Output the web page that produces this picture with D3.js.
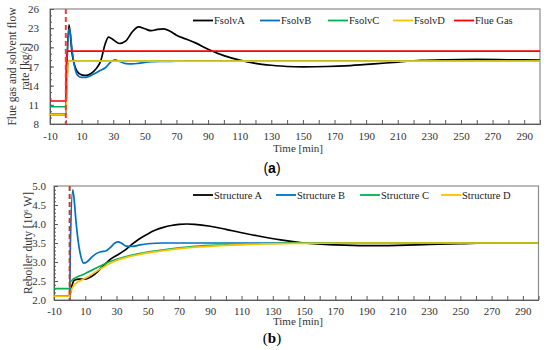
<!DOCTYPE html>
<html>
<head>
<meta charset="utf-8">
<script src="https://cdn.jsdelivr.net/npm/d3@7"></script>
<style>
    body { margin: 0; background: #fff; }
    svg { display: block; }
</style>
</head>
<body>
<div id="chart"></div>
<script>
// ---- (a) flow rates ----
const namesA = ['FsolvA', 'FsolvB', 'FsolvC', 'FsolvD', 'Flue Gas'];
const timeFA = [-10, 0, 0.5, 2, 4, 7, 10, 13, 16, 19, 22, 25, 27, 30, 34, 38, 42, 46, 50, 54, 58, 62, 66, 70, 76, 82, 90, 100, 110, 120, 130, 140, 150, 165, 180, 195, 210, 225, 240, 260, 280, 300];
const fsolvA = [9.5, 9.5, 15, 23.5, 19, 16.3, 15.7, 15.6, 15.9, 16.6, 17.8, 20.6, 21.6, 21.2, 20.6, 21.0, 22.4, 23.2, 22.9, 22.6, 22.8, 22.9, 22.5, 21.9, 21.3, 20.7, 19.7, 18.7, 18.0, 17.5, 17.2, 17.0, 16.95, 17.0, 17.15, 17.4, 17.7, 17.95, 18.05, 18.1, 18.05, 18.0];
const timeFB = [-10, 0, 0.5, 2.3, 4, 6, 8, 10, 13, 16, 19, 22, 25, 28, 31, 34, 38, 42, 46, 50, 55, 60, 70, 80, 100, 150, 200, 250, 300];
const fsolvB = [9.5, 9.5, 16, 23.0, 19.5, 16.5, 15.5, 15.3, 15.3, 15.6, 16.0, 16.4, 16.8, 17.6, 18.05, 17.8, 17.45, 17.4, 17.5, 17.65, 17.75, 17.8, 17.82, 17.85, 17.85, 17.85, 17.85, 17.85, 17.85];
const timeFC = [-10, 0, 1.5, 300];
const fsolvC = [10.7, 10.7, 17.85, 17.85];
const timeFD = [-10, 0, 1.5, 300];
const fsolvD = [9.5, 9.5, 17.85, 17.85];
const timeGas = [-10, 0, 0.5, 300];
const flueGas = [11.6, 11.6, 19.4, 19.4];

// ---- (b) reboiler duty ----
const namesB = ['Structure A', 'Structure B', 'Structure C', 'Structure D'];
const timeSA = [-10, 0, 1, 3, 6, 10, 14, 18, 22, 26, 30, 35, 40, 45, 50, 55, 60, 65, 70, 75, 80, 90, 100, 110, 120, 135, 150, 170, 190, 210, 230, 250, 270, 300];
const structA = [2.1, 2.1, 2.3, 2.52, 2.55, 2.55, 2.62, 2.75, 2.92, 3.07, 3.17, 3.3, 3.47, 3.62, 3.74, 3.84, 3.91, 3.96, 3.99, 4.0, 3.99, 3.94, 3.86, 3.77, 3.69, 3.58, 3.5, 3.45, 3.43, 3.44, 3.46, 3.48, 3.5, 3.5];
const timeSB = [-10, 0, 0.5, 2, 3, 4, 5, 6, 7.5, 9, 11, 14, 17, 20, 23, 26, 29, 31, 33, 36, 40, 45, 50, 60, 80, 100, 300];
const structB = [2.1, 2.1, 3.5, 4.9, 4.6, 4.1, 3.7, 3.4, 3.1, 2.97, 3.0, 3.12, 3.22, 3.27, 3.29, 3.38, 3.5, 3.53, 3.5, 3.42, 3.41, 3.45, 3.48, 3.5, 3.5, 3.5, 3.5];
const timeSC = [-10, 0, 0.3, 1.5, 3, 5, 8, 12, 16, 20, 25, 30, 40, 50, 60, 70, 80, 100, 120, 150, 180, 300];
const structC = [2.3, 2.3, 2.45, 2.52, 2.57, 2.61, 2.66, 2.74, 2.82, 2.9, 3.0, 3.07, 3.18, 3.26, 3.32, 3.37, 3.41, 3.45, 3.48, 3.5, 3.5, 3.5];
const timeSD = [-10, 0, 0.5, 1.5, 3, 5, 8, 12, 16, 20, 25, 30, 40, 50, 60, 70, 80, 100, 120, 150, 180, 300];
const structD = [2.1, 2.1, 2.2, 2.3, 2.4, 2.47, 2.53, 2.62, 2.72, 2.83, 2.95, 3.04, 3.16, 3.24, 3.3, 3.35, 3.39, 3.44, 3.47, 3.49, 3.5, 3.5];

const xTickLabels = d3.range(-10, 300, 20);
const colors = ['#000000', '#0070c0', '#00b050', '#ffc000', '#ff0000'];
const serif = "'Liberation Serif', 'DejaVu Serif', serif";

const svg = d3.select('#chart').append('svg')
    .attr('width', 550)
    .attr('height', 350)
    .attr('font-family', serif);

function zip(t, v) {
    return t.map((d, i) => [d, v[i]]);
}

function drawPanel(opt) {
    const x = d3.scaleLinear().domain([-10, 300]).range([opt.left, opt.right]);
    const y = d3.scaleLinear().domain(opt.yDomain).range([opt.bottom, opt.top]);
    const g = svg.append('g');

    // plot frame
    g.append('rect')
        .attr('x', opt.left).attr('y', opt.top)
        .attr('width', opt.right - opt.left).attr('height', opt.bottom - opt.top)
        .attr('fill', 'none').attr('stroke', '#8c8c8c').attr('stroke-width', 1.2);

    // y axis, ticks inside
    g.append('g')
        .attr('transform', `translate(${opt.left},0)`)
        .call(d3.axisLeft(y).tickValues(opt.yTicks).tickSize(-4).tickSizeOuter(0)
            .tickPadding(opt.yPad).tickFormat(opt.yFormat));
    g.append('g')
        .attr('transform', `translate(${opt.left},0)`)
        .call(d3.axisLeft(y).tickValues(opt.yMinor).tickSize(-2).tickSizeOuter(0).tickFormat(''));

    // x axis
    g.append('g')
        .attr('transform', `translate(0,${opt.bottom})`)
        .call(d3.axisBottom(x).tickValues(xTickLabels).tickSize(-4).tickSizeOuter(0)
            .tickPadding(opt.xPad).tickFormat(d => String(d)));
    g.append('g')
        .attr('transform', `translate(0,${opt.bottom})`)
        .call(d3.axisBottom(x).tickValues(d3.range(0, 301, 20)).tickSize(-4).tickSizeOuter(0).tickFormat(''));

    g.selectAll('g').attr('font-family', serif);
    g.selectAll('.domain, .tick line').attr('stroke', '#595959');
    g.selectAll('.tick text')
        .attr('font-size', 11)
        .attr('fill', '#333');

    // lines
    const line = d3.line()
        .x(d => x(d[0]))
        .y(d => y(d[1]))
        .curve(d3.curveMonotoneX);

    opt.series.forEach((s, i) => {
        g.append('path')
            .datum(zip(s.t, s.v))
            .attr('d', line)
            .attr('fill', 'none')
            .attr('stroke', colors[i])
            .attr('stroke-width', 1.7);
    });

    // dashed step marker at t = 0
    g.append('line')
        .attr('x1', x(0)).attr('x2', x(0))
        .attr('y1', opt.top).attr('y2', opt.bottom)
        .attr('stroke', opt.dashColor)
        .attr('stroke-width', 2)
        .attr('stroke-dasharray', '5,3');

    // legend
    const legend = g.append('g');
    opt.names.forEach((n, i) => {
        legend.append('line')
            .attr('x1', opt.legendX[i]).attr('x2', opt.legendX[i] + 20)
            .attr('y1', opt.legendY).attr('y2', opt.legendY)
            .attr('stroke', colors[i]).attr('stroke-width', 1.8);
        legend.append('text')
            .attr('x', opt.legendX[i] + 21)
            .attr('y', opt.legendY + 3.5)
            .attr('font-size', 10.5)
            .attr('fill', '#222')
            .text(n);
    });

    // axis titles
    g.append('text')
        .attr('x', 298).attr('y', opt.xTitleY)
        .attr('text-anchor', 'middle')
        .attr('font-size', 11)
        .attr('fill', '#333')
        .text('Time [min]');

    const yTitle = g.append('text')
        .attr('transform', `translate(${opt.yTitleX},${(opt.top + opt.bottom) / 2}) rotate(-90)`)
        .attr('text-anchor', 'middle')
        .attr('font-size', 11.5)
        .attr('fill', '#333');
    opt.yTitle.forEach((t, i) => {
        yTitle.append('tspan')
            .attr('x', 0)
            .attr('dy', i === 0 ? 0 : 13)
            .html(t);
    });
}

drawPanel({
    left: 50, right: 540, top: 9, bottom: 124,
    yDomain: [8, 26], yTicks: d3.range(8, 27, 3), yMinor: d3.range(8, 27, 1),
    yFormat: d3.format('d'), yPad: 11, xPad: 8,
    series: [
        { t: timeFA, v: fsolvA }, { t: timeFB, v: fsolvB }, { t: timeFC, v: fsolvC },
        { t: timeFD, v: fsolvD }, { t: timeGas, v: flueGas }
    ],
    names: namesA, legendX: [193, 260, 328, 393, 454], legendY: 20.5,
    dashColor: '#ee3b3b',
    xTitleY: 152, yTitleX: 16,
    yTitle: ['Flue gas and solvent flow', 'rate [kg/s]']
});

drawPanel({
    left: 54, right: 538.5, top: 186, bottom: 300,
    yDomain: [2, 5], yTicks: d3.range(2, 5.01, 0.5), yMinor: d3.range(2, 5.01, 0.1),
    yFormat: d3.format('.1f'), yPad: 8, xPad: 7,
    series: [
        { t: timeSA, v: structA }, { t: timeSB, v: structB },
        { t: timeSC, v: structC }, { t: timeSD, v: structD }
    ],
    names: namesB, legendX: [193, 276, 360, 441], legendY: 195,
    dashColor: '#c0392b',
    xTitleY: 325, yTitleX: 32,
    yTitle: ['Reboiler duty [10<tspan dy="-4" font-size="7">6</tspan><tspan dy="4"> W]</tspan>']
});

// panel captions
svg.append('text')
    .attr('x', 272).attr('y', 173)
    .attr('text-anchor', 'middle')
    .attr('font-family', "'Liberation Sans', sans-serif")
    .attr('font-size', 14)
    .html('(<tspan font-weight="bold">a</tspan>)');

svg.append('text')
    .attr('x', 272).attr('y', 343)
    .attr('text-anchor', 'middle')
    .attr('font-size', 15)
    .html('(<tspan font-weight="bold">b</tspan>)');
</script>
</body>
</html>
